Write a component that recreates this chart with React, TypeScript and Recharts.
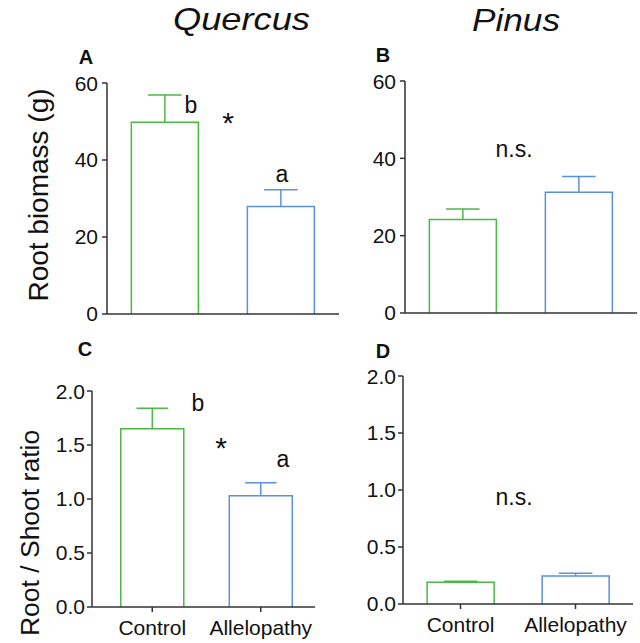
import { Bar, BarChart, XAxis, YAxis } from "recharts";

const groups = ["Control", "Allelopathy"];

const quercusBiomass = [49.8, 27.9];
const quercusBiomassErr = [7.1, 4.4];
const pinusBiomass = [24.2, 31.2];
const pinusBiomassErr = [2.7, 4.1];

const quercusRatio = [1.65, 1.03];
const quercusRatioErr = [0.19, 0.12];
const pinusRatio = [0.19, 0.245];
const pinusRatioErr = [0.01, 0.025];

const biomassTicks = [0, 20, 40, 60];
const ratioTicks = [0, 0.5, 1, 1.5, 2];

const barColors = ["#4cb845", "#5b90dd"];
const axisColor = "#333";
const font = "'Liberation Sans', Arial, sans-serif";
const Y_AXIS_W = 70;

const OpenBar = (props: any) => {
  const { x, y, width, height, index, payload } = props;
  const color = barColors[index];
  const pxPerUnit = height / payload.value;
  const errTop = y - payload.err * pxPerUnit;
  const cx = x + width / 2;
  const half = width / 4;
  return (
    <g>
      <path
        d={`M${x},${y + height} V${y} H${x + width} V${y + height}`}
        fill="#fff"
        stroke={color}
        strokeWidth={1.5}
      />
      <line x1={cx} y1={y} x2={cx} y2={errTop} stroke={color} strokeWidth={1.5} />
      <line x1={cx - half} y1={errTop} x2={cx + half} y2={errTop} stroke={color} strokeWidth={1.5} />
    </g>
  );
};

type PanelProps = {
  values: number[];
  errors: number[];
  axisX: number;
  axisTop: number;
  plotW: number;
  plotH: number;
  max: number;
  ticks: number[];
  decimals: number;
  showNames: boolean;
  padLeft?: number;
  yTickMargin: number;
};

function Panel({
  values,
  errors,
  axisX,
  axisTop,
  plotW,
  plotH,
  max,
  ticks,
  decimals,
  showNames,
  padLeft = 0,
  yTickMargin,
}: PanelProps) {
  const data = groups.map((name, i) => ({ name, value: values[i], err: errors[i] }));
  const top = 12;
  return (
    <div style={{ position: "absolute", left: axisX - Y_AXIS_W, top: axisTop - top }}>
      <BarChart
        width={Y_AXIS_W + plotW + 4}
        height={top + plotH + 45}
        data={data}
        margin={{ top, right: 4, bottom: 5, left: 0 }}
        barCategoryGap="21%"
      >
        <XAxis
          dataKey="name"
          height={40}
          padding={{ left: padLeft, right: 0 }}
          axisLine={{ stroke: axisColor, strokeWidth: 1.5 }}
          tickLine={{ stroke: axisColor, strokeWidth: 1.5 }}
          tickSize={5}
          tickMargin={8}
          tick={
            showNames
              ? { fill: "#111", fontSize: 21, fontFamily: font }
              : false
          }
          interval={0}
        />
        <YAxis
          width={Y_AXIS_W}
          domain={[0, max]}
          ticks={ticks}
          allowDataOverflow
          axisLine={{ stroke: axisColor, strokeWidth: 1.5 }}
          tickLine={{ stroke: axisColor, strokeWidth: 1.5 }}
          tickSize={5}
          tickMargin={yTickMargin}
          tick={{ fill: "#111", fontSize: 21, fontFamily: font }}
          tickFormatter={(v: number) => v.toFixed(decimals)}
        />
        <Bar dataKey="value" shape={OpenBar} isAnimationActive={false} />
      </BarChart>
    </div>
  );
}

const textStyle = { fontFamily: font, fill: "#111" };

export default function App() {
  return (
    <div
      style={{
        position: "absolute",
        left: 0,
        top: 0,
        width: 640,
        height: 643,
        background: "#fff",
        overflow: "hidden",
      }}
    >
      <Panel
        values={quercusBiomass}
        errors={quercusBiomassErr}
        axisX={107}
        axisTop={83}
        plotW={232}
        plotH={231}
        max={60}
        ticks={biomassTicks}
        decimals={0}
        showNames={false}
        yTickMargin={4}
      />
      <Panel
        values={pinusBiomass}
        errors={pinusBiomassErr}
        axisX={405}
        axisTop={81}
        plotW={232}
        plotH={232}
        max={60}
        ticks={biomassTicks}
        decimals={0}
        showNames={false}
        yTickMargin={4}
      />
      <Panel
        values={quercusRatio}
        errors={quercusRatioErr}
        axisX={92}
        axisTop={391}
        plotW={223}
        plotH={216}
        max={2}
        ticks={ratioTicks}
        decimals={1}
        showNames
        padLeft={6}
        yTickMargin={2}
      />
      <Panel
        values={pinusRatio}
        errors={pinusRatioErr}
        axisX={403}
        axisTop={376}
        plotW={230}
        plotH={228}
        max={2}
        ticks={ratioTicks}
        decimals={1}
        showNames
        yTickMargin={2}
      />
      <svg
        width={640}
        height={643}
        style={{ position: "absolute", left: 0, top: 0, pointerEvents: "none" }}
      >
        <g style={textStyle as any}>
          <text
            x={173}
            y={30}
            fontSize={32}
            fontStyle="italic"
            textLength={137}
            lengthAdjust="spacingAndGlyphs"
          >
            Quercus
          </text>
          <text
            x={472}
            y={31}
            fontSize={32}
            fontStyle="italic"
            textLength={88}
            lengthAdjust="spacingAndGlyphs"
          >
            Pinus
          </text>

          <text x={86} y={64} fontSize={20} fontWeight="bold" textAnchor="middle">A</text>
          <text x={383} y={62} fontSize={20} fontWeight="bold" textAnchor="middle">B</text>
          <text x={85} y={356} fontSize={20} fontWeight="bold" textAnchor="middle">C</text>
          <text x={383} y={358} fontSize={20} fontWeight="bold" textAnchor="middle">D</text>

          <text
            transform="translate(48,195) rotate(-90)"
            fontSize={28}
            textAnchor="middle"
          >
            Root biomass (g)
          </text>
          <text
            transform="translate(39,533) rotate(-90)"
            fontSize={26.5}
            textAnchor="middle"
          >
            Root / Shoot ratio
          </text>

          <text x={191} y={113} fontSize={23} textAnchor="middle">b</text>
          <text x={228} y={133} fontSize={30} textAnchor="middle">*</text>
          <text x={282} y={182} fontSize={23} textAnchor="middle">a</text>
          <text x={514} y={157} fontSize={23} textAnchor="middle">n.s.</text>

          <text x={198} y={411} fontSize={23} textAnchor="middle">b</text>
          <text x={221} y={458} fontSize={30} textAnchor="middle">*</text>
          <text x={283} y={467} fontSize={23} textAnchor="middle">a</text>
          <text x={514} y={505} fontSize={23} textAnchor="middle">n.s.</text>
        </g>
      </svg>
    </div>
  );
}
